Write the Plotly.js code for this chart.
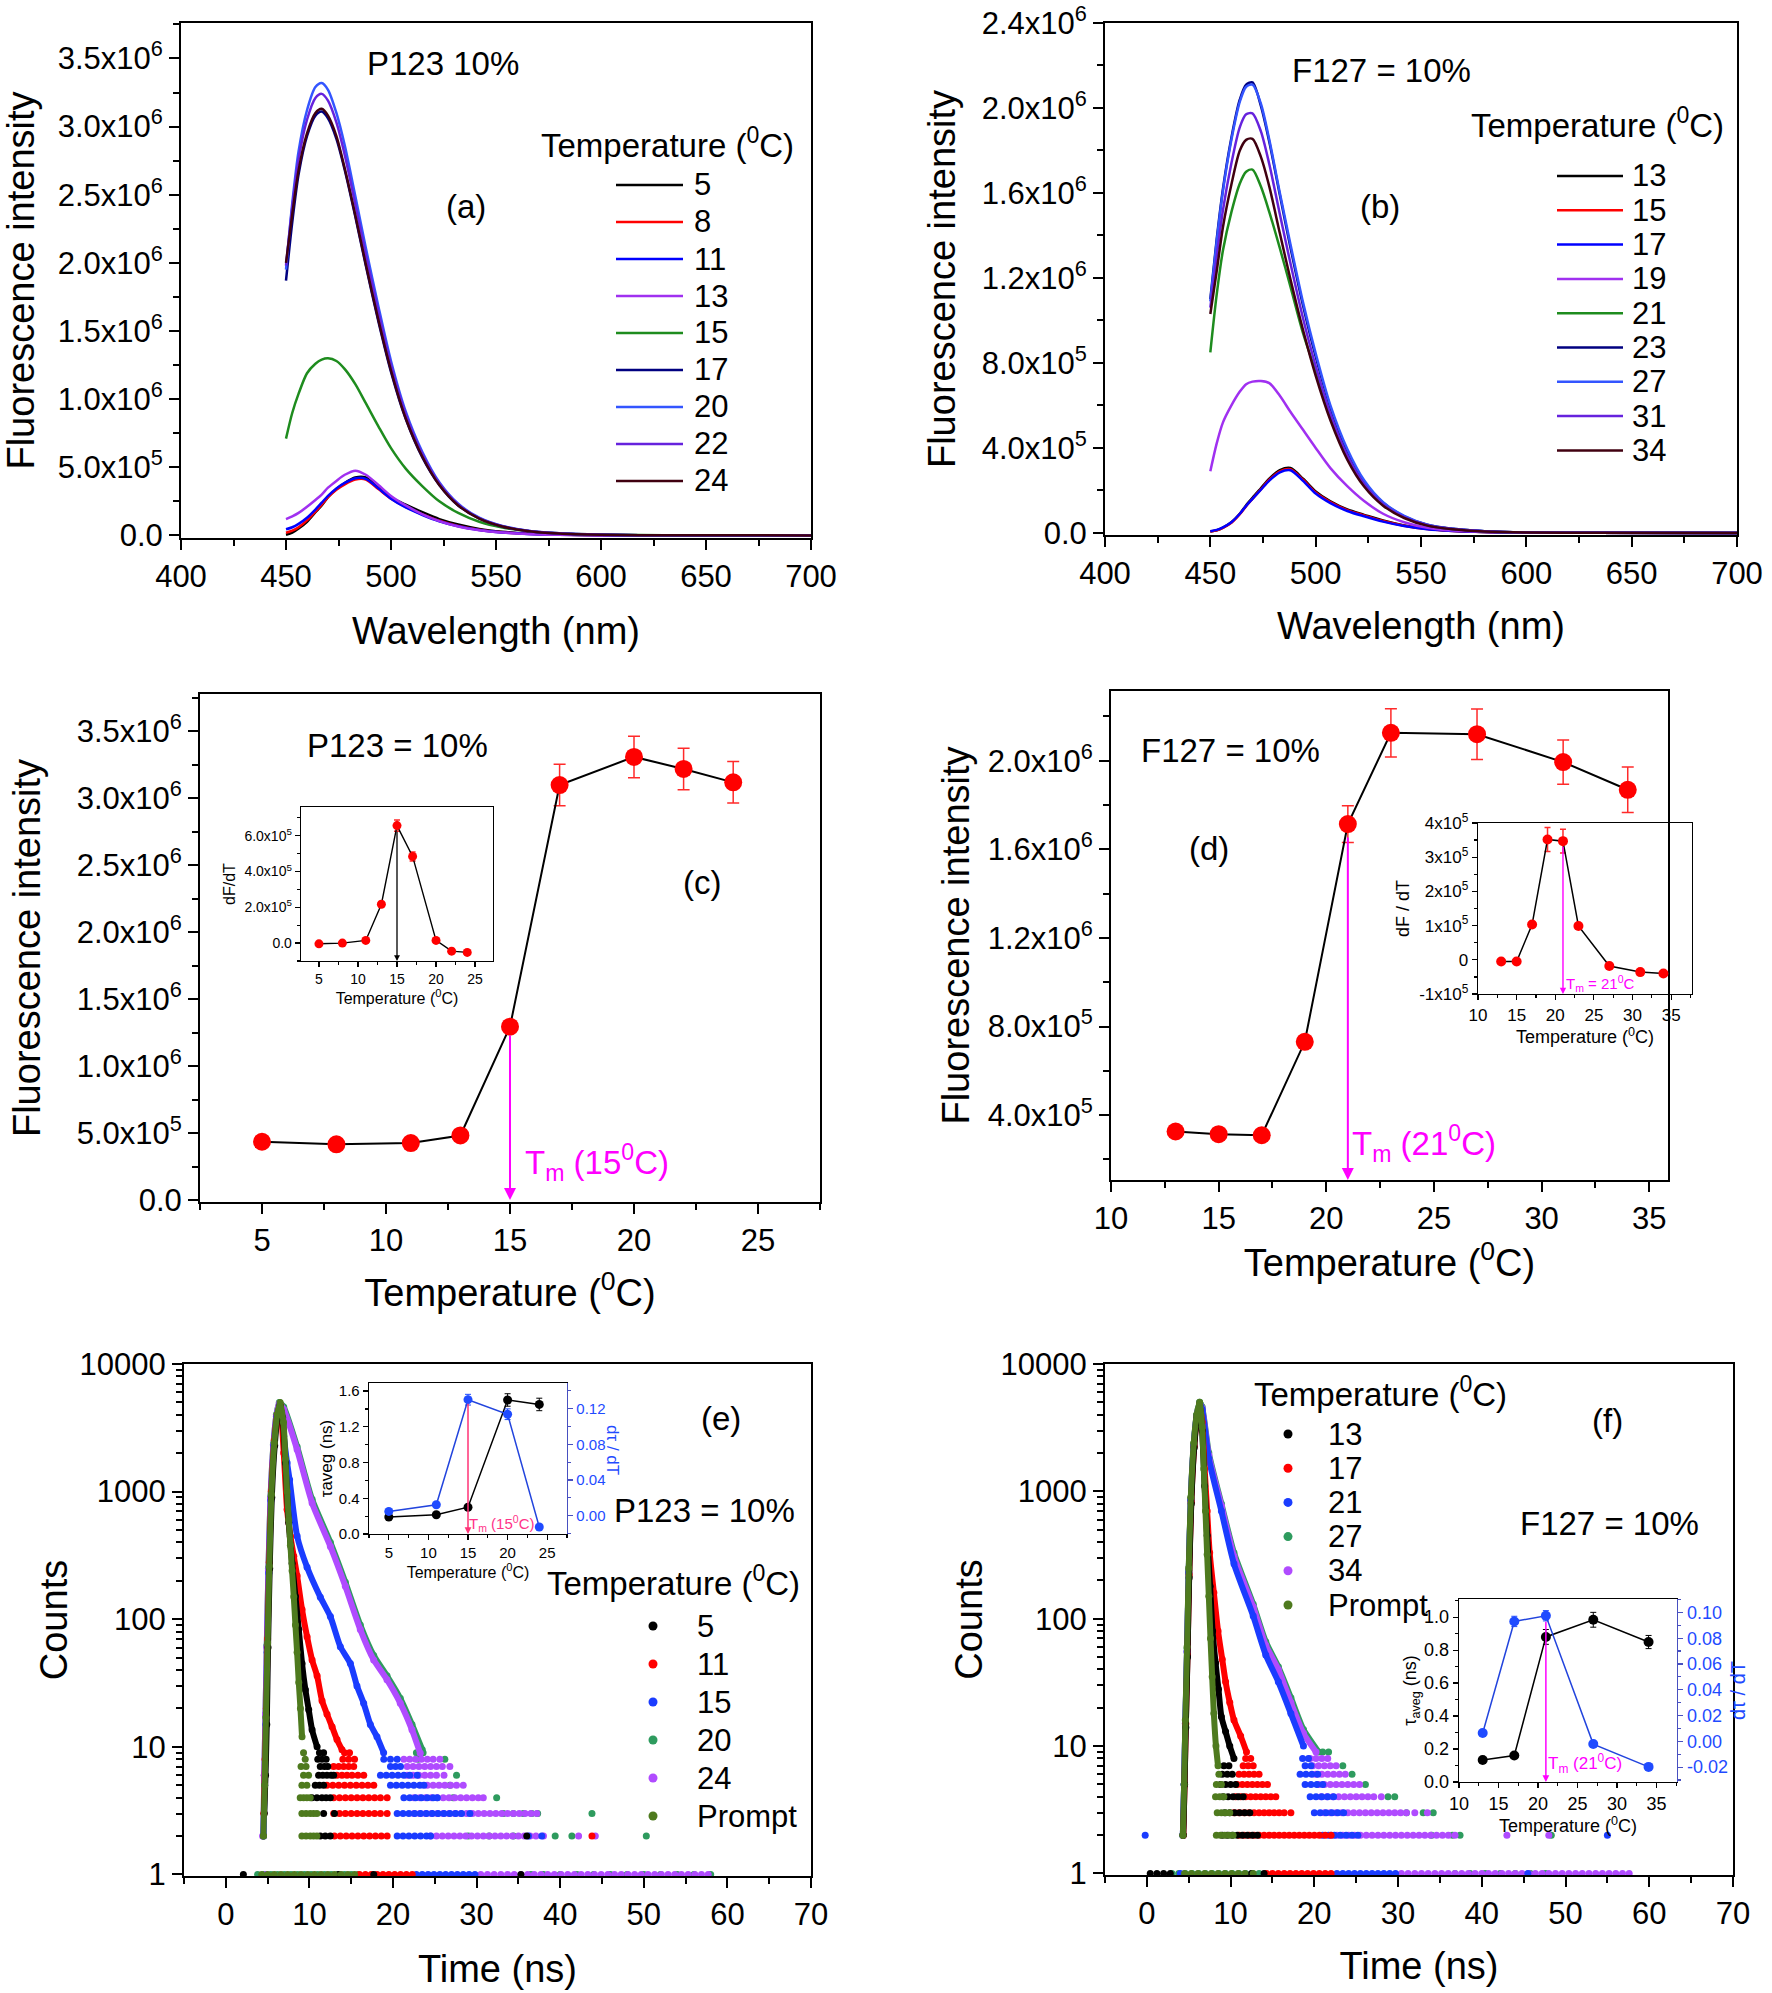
<!DOCTYPE html>
<html><head><meta charset="utf-8">
<script src="https://cdn.plot.ly/plotly-3.0.1.min.js"></script>
<style>html,body{margin:0;padding:0;background:#fff}#chart{width:1772px;height:1993px}</style>
</head><body><div id="chart"></div>
<script>
// ================= DATA =================
// (a),(b) emission spectra, intensity in units of 10^6
const wavelength = [450,453,456,460,464,467,470,474,478,483,488,494,500,507,515,523,532,542,553,565,580,600,630,700];
const tempsA = ['5','8','11','13','15','17','20','22','24'];
const specA_5  = [0.005,0.02,0.05,0.10,0.17,0.22,0.28,0.34,0.385,0.425,0.425,0.35,0.28,0.225,0.17,0.12,0.08,0.048,0.027,0.014,0.006,0.002,0.0005,0];
const specA_8  = [0.02,0.035,0.06,0.11,0.175,0.225,0.28,0.335,0.375,0.41,0.41,0.34,0.27,0.21,0.155,0.108,0.07,0.042,0.023,0.012,0.005,0.002,0.0005,0];
const specA_11 = [0.045,0.06,0.085,0.13,0.19,0.24,0.29,0.345,0.385,0.42,0.415,0.345,0.27,0.205,0.15,0.104,0.067,0.04,0.022,0.011,0.005,0.002,0.0005,0];
const specA_13 = [0.12,0.14,0.165,0.21,0.26,0.30,0.35,0.40,0.445,0.475,0.445,0.37,0.29,0.22,0.155,0.105,0.065,0.038,0.021,0.011,0.005,0.002,0.0005,0];
const specA_15 = [0.71,0.90,1.04,1.19,1.26,1.29,1.30,1.28,1.22,1.11,0.97,0.80,0.64,0.49,0.36,0.25,0.165,0.10,0.058,0.032,0.015,0.006,0.002,0];
const specA_17 = [1.87,2.30,2.65,2.93,3.08,3.11,3.06,2.91,2.68,2.34,1.98,1.57,1.20,0.855,0.57,0.37,0.22,0.125,0.066,0.033,0.014,0.005,0.001,0];
const specA_20 = [1.95,2.44,2.82,3.12,3.29,3.32,3.27,3.10,2.86,2.49,2.11,1.68,1.28,0.91,0.61,0.39,0.232,0.13,0.069,0.035,0.015,0.005,0.001,0];
const specA_22 = [1.98,2.41,2.76,3.05,3.21,3.24,3.19,3.03,2.79,2.43,2.06,1.64,1.25,0.89,0.595,0.382,0.227,0.127,0.068,0.034,0.015,0.005,0.001,0];
const specA_24 = [2.00,2.36,2.68,2.95,3.10,3.13,3.08,2.93,2.69,2.35,1.99,1.58,1.21,0.86,0.575,0.37,0.22,0.124,0.066,0.033,0.014,0.005,0.001,0];

const tempsB = ['13','15','17','19','21','23','27','31','34'];
const specB_13 = [0.006,0.012,0.025,0.05,0.09,0.13,0.165,0.21,0.255,0.295,0.305,0.255,0.195,0.148,0.11,0.085,0.058,0.035,0.019,0.01,0.004,0.0015,0.0004,0];
const specB_15 = [0.006,0.012,0.024,0.048,0.088,0.126,0.16,0.205,0.25,0.29,0.30,0.25,0.19,0.145,0.107,0.082,0.056,0.034,0.018,0.009,0.004,0.0015,0.0004,0];
const specB_17 = [0.008,0.014,0.026,0.05,0.09,0.127,0.16,0.203,0.246,0.285,0.295,0.245,0.185,0.14,0.103,0.078,0.053,0.032,0.017,0.009,0.004,0.0014,0.0004,0];
const specB_19 = [0.29,0.42,0.52,0.60,0.665,0.70,0.712,0.715,0.705,0.645,0.57,0.485,0.40,0.305,0.22,0.15,0.09,0.05,0.024,0.011,0.005,0.0015,0.0004,0];
const specB_21 = [0.85,1.12,1.33,1.51,1.645,1.70,1.71,1.63,1.51,1.34,1.16,0.94,0.76,0.55,0.36,0.23,0.135,0.074,0.036,0.018,0.008,0.002,0.0006,0];
const specB_23 = [1.10,1.38,1.62,1.86,2.04,2.11,2.12,2.01,1.84,1.59,1.345,1.07,0.83,0.59,0.385,0.24,0.142,0.078,0.038,0.019,0.008,0.002,0.0006,0];
const specB_27 = [1.09,1.37,1.61,1.85,2.03,2.10,2.11,2.02,1.85,1.60,1.36,1.085,0.845,0.60,0.395,0.248,0.145,0.080,0.039,0.019,0.008,0.002,0.0006,0];
const specB_31 = [1.06,1.30,1.52,1.74,1.91,1.97,1.975,1.89,1.735,1.50,1.27,1.01,0.785,0.56,0.365,0.23,0.135,0.074,0.036,0.018,0.008,0.002,0.0006,0];
const specB_34 = [1.03,1.23,1.44,1.64,1.80,1.85,1.855,1.77,1.63,1.41,1.195,0.955,0.74,0.53,0.345,0.218,0.128,0.070,0.034,0.017,0.007,0.002,0.0005,0];

// (c) peak intensity vs temperature (10^6) and inset dF/dT (10^5)
const tempC   = [5,8,11,13,15,17,20,22,24];
const intenC  = [0.435,0.416,0.425,0.482,1.295,3.10,3.31,3.22,3.12];
const errC    = [0,0,0,0,0,0.155,0.155,0.155,0.155];
const dFdT_C  = [-0.04,0.0,0.15,2.17,6.56,4.84,0.15,-0.45,-0.52];
const errInC  = [0,0,0,0,0.32,0.25,0,0,0];
// (d)
const tempD   = [13,15,17,19,21,23,27,31,34];
const intenD  = [0.326,0.314,0.309,0.731,1.714,2.126,2.12,1.994,1.869];
const errD    = [0,0,0,0,0.083,0.109,0.114,0.10,0.103];
const dFdT_D  = [-0.05,-0.05,1.03,3.52,3.47,0.99,-0.18,-0.36,-0.40];
const errInD  = [0,0,0,0.35,0.35,0,0,0,0];
// (e) inset: average lifetime and its derivative
const tempE    = [5,11,15,20,24];
const tauE     = [0.19,0.216,0.30,1.50,1.45];
const tauErrE  = [0,0,0,0.07,0.07];
const dtauE    = [0.0048,0.0123,0.130,0.1137,-0.0127];
const dtauErrE = [0,0,0.006,0.006,0];
// (f) inset
const tempF    = [13,17,21,27,34];
const tauF     = [0.133,0.161,0.88,0.984,0.849];
const tauErrF  = [0,0,0.045,0.045,0.04];
const dtauF    = [0.0065,0.093,0.0974,-0.0021,-0.0198];
const dtauErrF = [0,0.004,0.004,0,0];

// (e) decay curves: time (ns), counts
const labelsE = ['5','11','15','20','24','Prompt'];
const decE_5_t  = [4.6,4.75,4.9,5.05,5.25,5.5,5.85,6.2,6.5,6.8,7.13,7.53,7.93,8.33,8.73,9.12,9.52,9.92,10.32,10.92];
const decE_5_c  = [3,6,15,60,250,900,2300,3900,4700,3800,1680,570,275,151,83,45,28,19.5,13.6,10];
const decE_11_t = [4.55,4.7,4.85,5.0,5.2,5.45,5.8,6.15,6.5,6.93,7.33,7.73,8.13,8.53,9.12,9.72,10.32,10.92,11.51,12.11,12.71,13.3,13.9];
const decE_11_c = [3,8,20,70,280,1000,2500,4000,4800,2010,723,447,311,219,119,73,48,36,23,18,14.4,11.4,9.5];
const decE_15_t = [4.5,4.65,4.8,4.95,5.15,5.4,5.75,6.1,6.45,6.93,7.33,7.63,8.53,9.72,11.31,12.51,13.7,14.9,15.69,16.49,17.29,18.08,18.88];
const decE_15_c = [2,5,15,55,230,850,2300,3900,4800,2716,1680,1240,448,256,149,105,61,45,30,22,15,12,9];
const decE_20_t = [4.5,4.6,4.75,4.9,5.1,5.35,5.7,6.05,6.4,6.93,8.53,10.32,12.51,14.3,16.09,17.69,19.28,20.87,22.27,23.5];
const decE_20_c = [2,6,18,62,250,900,2350,4000,5000,4600,2250,870,400,195,90,52,36,24,15,9.5];
const decE_24_t = [4.5,4.6,4.75,4.9,5.1,5.35,5.7,6.05,6.4,6.93,8.53,10.32,12.51,14.3,16.09,17.69,19.28,20.87,22.27,23.26];
const decE_24_c = [2,6,18,60,240,880,2300,3900,4900,4400,2135,815,372,181,83,48,33.6,22,13.6,8.9];
const decE_P_t  = [4.5,4.65,4.8,5.0,5.2,5.45,5.8,6.15,6.5,6.9,7.13,7.33,7.53,7.73,7.93,8.13,8.33,8.53,8.73,8.93,9.12];
const decE_P_c  = [2,5,17,65,260,950,2400,4000,5000,3500,1800,1000,600,380,240,150,90,55,32,20,12];
// low-count rows: [count, [times]]
const tailE_5  = [[9,[11.2,11.7]],[8,[11.0,11.5,12.0]],[7,[11.3,11.8,12.2]],[6,[11.1,11.6,12.1,12.6,12.9]],[5,[10.7,11.2,11.7]],[4,[10.3,10.9,11.5,12.0,12.5]],[3,[11.7,13.0]],[2,[11.3,11.9,12.5,36.0]],[1,[2.1,13.5,17.7,35.3]]];
const tailE_11 = [[9,[14.2,14.8]],[8,[14.0,14.7,15.4]],[7,[12.9,13.5,14.1,14.7,15.3]],[6,[13.3,13.9,14.5,15.1,15.8,16.5]],[5,[12.1,12.8,13.5,14.2,14.9,15.6,16.3,17.0,17.7]],[4,[12.9,13.6,14.3,15.0,15.7,16.4,17.1,17.8,18.5,19.3]],[3,[12.9,13.6,14.3,15.0,15.7,16.4,17.1,17.8,18.5,19.3]],[2,[13.0,13.7,14.4,15.1,15.8,16.5,17.2,17.9,18.6,19.3,43.8]],[1,[16.0,16.7,17.4,18.1,18.8,19.5,20.2,20.9,21.6,22.3]]];
const tailE_15 = [[8,[18.9,19.7,20.5]],[7,[19.7,20.3,20.9]],[6,[18.5,19.2,19.9,20.6,21.3,22.0,22.9]],[5,[19.7,20.4,21.1,21.8,22.5,23.2,23.7]],[4,[21.3,22.0,22.7,23.4,24.1,24.8,25.3]],[3,[20.5,21.2,21.9,22.6,23.3,24.0,24.7,25.4,26.1,26.8,27.5,28.2,29.2]],[2,[20.5,21.2,21.9,22.6,23.3,24.0,24.5,36.2,37.8]],[1,[22.8,23.5,24.2,24.9,25.6,26.3,27.0,27.7,28.4,29.1,29.8]]];
const tailE_20 = [[9,[22.8,23.6]],[8,[23.0,26.2]],[6,[27.6]],[5,[26.8]],[4,[27.2,32.4]],[3,[33.2,34.4,35.6,36.6,37.3,43.8]],[2,[29.0,31.5,34.4,39.4,41.4,50.3]],[1,[3.8,4.6,5.4,6.2,7.0,7.8,8.6,9.4,10.2,11.0,11.8,12.6,13.4,14.2,15.0,15.8,36.5,38.0,40.0,42.0,44.0,46.0,48.0,50.0,52.0,54.0,56.0,58.0]]];
const tailE_24 = [[8,[21.3,22.0,22.7,23.4,24.1,24.8,25.6]],[7,[21.7,22.4,23.1,23.8,24.5,25.2,25.9,26.8]],[6,[21.7,22.4,23.1,23.8,24.5,25.2,26.1]],[5,[24.1,24.8,25.5,26.2,26.9,27.6,28.4]],[4,[22.5,23.2,23.9,24.6,25.3,26.0,26.7,27.4,28.1,28.8,29.5,30.2,30.8]],[3,[22.5,23.2,23.9,24.6,25.3,26.0,26.7,27.4,28.1,28.8,29.5,30.2,30.9,31.6,32.3,33.0,33.7,34.4,35.1,35.8,36.5,37.2]],[2,[4.4,24.5,25.2,25.9,26.6,27.3,28.0,28.7,29.4,30.1,30.8,31.5,32.2,32.9,33.6,34.3,35.0,35.7,36.4,37.1,38.0,42.2,44.2]],[1,[4.8,30.5,31.3,32.1,32.9,33.7,34.5,35.3,36.1,36.9,37.7,38.5,39.3,40.1,40.9,41.7,42.5,43.3,44.1,44.9,45.7,46.5,47.3,48.1,48.9,49.7,50.5,51.3,52.1,52.9,53.7,54.5,55.3,56.1,56.9,57.7]]];
const tailE_P  = [[9,[9.3]],[8,[9.5]],[7,[9.0,9.6]],[6,[9.3,9.9]],[5,[9.1,9.7]],[4,[8.9,9.3,9.7,10.1]],[3,[9.1,9.6,10.1,10.5,10.9]],[2,[4.5,9.1,9.6,10.1,10.5,10.9]],[1,[4.3,5.0,5.8,6.6,7.4,8.2,9.0,9.8,10.6,11.4,12.2,13.0,13.8,14.6,15.4]]];

// (f) decay curves
const labelsF = ['13','17','21','27','34','Prompt'];
const decF_13_t = [4.35,4.5,4.65,4.85,5.05,5.3,5.65,6.0,6.3,6.6,6.9,7.2,7.55,7.85,8.2,8.55,8.9,9.4,9.9,10.4];
const decF_13_c = [2,5,14,50,210,800,2200,3800,4700,3000,1100,450,180,80,45,28,17,13,10,8];
const decF_17_t = [4.35,4.5,4.65,4.85,5.05,5.3,5.65,6.0,6.3,6.6,6.9,7.2,7.5,8.0,8.5,9.0,9.4,9.9,10.4,11.2,11.9];
const decF_17_c = [2,5,15,52,220,820,2250,3850,4800,3500,1500,700,330,160,80,48,32,22,16,12,9];
const decF_21_t = [4.3,4.45,4.6,4.8,5.0,5.25,5.6,5.95,6.3,6.6,7.4,8.9,10.4,12.7,14.2,15.7,17.2,18.7];
const decF_21_c = [2,5,15,55,230,850,2300,3900,4900,4400,1800,700,270,105,52,32,18,10];
const decF_27_t = [4.3,4.45,4.6,4.8,5.0,5.25,5.6,5.95,6.3,6.6,7.4,8.9,10.4,12.7,14.2,15.7,17.2,18.7,20.5];
const decF_27_c = [2,5,16,58,240,880,2350,4000,5000,4600,2000,800,330,130,66,42,24,13.5,9];
const decF_34_t = [4.3,4.45,4.6,4.8,5.0,5.25,5.6,5.95,6.3,6.6,7.4,8.9,10.4,12.7,14.2,15.7,17.2,18.7,20.2];
const decF_34_c = [2,5,15,55,230,850,2300,3900,4900,4500,1910,770,310,124,62,40,22,12.6,9];
const decF_P_t  = [4.3,4.45,4.6,4.8,5.0,5.25,5.6,5.95,6.3,6.6,6.8,7.0,7.2,7.4,7.6,7.8,8.0,8.25,8.5];
const decF_P_c  = [2,5,16,60,250,900,2400,4000,5000,3200,1500,700,320,150,70,35,18,10,7];
const tailF_13 = [[7,[9.2,9.8]],[6,[9.0,9.6,10.2]],[5,[8.8,9.4,10.0,10.6]],[4,[9.1,9.7,10.3,10.9,11.5]],[3,[9.3,9.9,10.5,11.1,11.7,12.3]],[2,[9.0,9.6,10.2,10.8,11.4,12.0,12.6,13.2]],[1,[0.4,1.2,2.0,2.8,12.5,14.0]]];
const tailF_17 = [[8,[11.8,12.4]],[7,[11.5,12.1,12.7]],[6,[11.0,11.6,12.2,12.8,13.4]],[5,[10.8,11.4,12.0,12.6,13.2,13.8,14.4]],[4,[10.6,11.2,11.8,12.4,13.0,13.6,14.2,14.8,15.4]],[3,[10.4,11.0,11.6,12.2,12.8,13.4,14.0,14.6,15.2,15.8,16.4,17.2]],[2,[11.0,11.6,12.2,12.8,13.4,14.0,14.6,15.2,15.8,16.4,17.0,17.6,18.2,18.8,19.4,20.0,20.6,21.3,22.0]],[1,[14.3,15.0,15.7,16.4,17.1,17.8,18.5,19.2,19.9,20.6,21.3,22.0]]];
const tailF_21 = [[8,[18.6,19.3]],[7,[18.9,19.6]],[6,[18.3,19.0,19.7,20.4]],[5,[18.9,19.6,20.3,21.0]],[4,[19.5,20.2,20.9,21.6,22.3]],[3,[20.0,20.7,21.4,22.1,22.8,23.5]],[2,[-0.2,21.0,21.7,22.4,23.1,23.8,24.5,25.2,55.0]],[1,[4.0,22.7,23.4,24.1,24.8,25.5,26.2,26.9,27.6,28.3,29.0,29.7,45.5]]];
const tailF_27 = [[9,[21.0,21.7]],[7,[23.4]],[6,[24.5]],[5,[26.1]],[4,[28.8,29.6]],[3,[31.0,33.0,34.2]],[2,[34.0,36.5,37.4,48.3]],[1,[3.0,3.8,4.6,5.4,6.2,7.0,7.8,8.6,9.4,10.2,11.0,11.8,12.6,13.4,36.8,38.6,40.4,42.2,44.0,45.8,47.6]]];
const tailF_34 = [[8,[19.5,20.2,20.9,21.6]],[7,[19.8,20.5,21.2,21.9,22.6]],[6,[20.2,20.9,21.6,22.3,23.0,23.7]],[5,[20.5,21.2,21.9,22.6,23.3,24.0,24.7,25.4]],[4,[20.8,21.5,22.2,22.9,23.6,24.3,25.0,25.7,26.4,27.1,28.0]],[3,[21.2,21.9,22.6,23.3,24.0,24.7,25.4,26.1,26.8,27.5,28.2,28.9,29.6,30.3,31.0,32.0,33.5]],[2,[22.0,22.7,23.4,24.1,24.8,25.5,26.2,26.9,27.6,28.3,29.0,29.7,30.4,31.1,31.8,32.5,33.2,33.9,34.6,35.3,36.0,36.8,43.0,48.0]],[1,[30.4,31.2,32.0,32.8,33.6,34.4,35.2,36.0,36.8,37.6,38.4,39.2,40.0,40.8,41.6,42.4,43.2,44.0,44.8,45.6,46.4,47.2,48.0,48.8,49.6,50.4,51.2,52.0,52.8,53.6,54.4,55.2,56.0,56.8,57.6]]];
const tailF_P  = [[6,[8.6]],[5,[8.3,8.9]],[4,[8.2,8.7,9.2]],[3,[8.4,8.9,9.4,9.9]],[2,[4.3,8.3,8.8,9.3,9.8,10.3]],[1,[4.5,5.3,6.1,6.9,7.7,8.5,9.3,10.1,10.9,11.7,12.7]]];

// tick labels
const tickWave = [400,450,500,550,600,650,700];
const yValsA = [0,0.5,1,1.5,2,2.5,3,3.5];
const yTextA = ['0.0','5.0x10<sup>5</sup>','1.0x10<sup>6</sup>','1.5x10<sup>6</sup>','2.0x10<sup>6</sup>','2.5x10<sup>6</sup>','3.0x10<sup>6</sup>','3.5x10<sup>6</sup>'];
const yValsB = [0,0.4,0.8,1.2,1.6,2.0,2.4];
const yTextB = ['0.0','4.0x10<sup>5</sup>','8.0x10<sup>5</sup>','1.2x10<sup>6</sup>','1.6x10<sup>6</sup>','2.0x10<sup>6</sup>','2.4x10<sup>6</sup>'];
const yValsD = [0.4,0.8,1.2,1.6,2.0];
const yTextD = ['4.0x10<sup>5</sup>','8.0x10<sup>5</sup>','1.2x10<sup>6</sup>','1.6x10<sup>6</sup>','2.0x10<sup>6</sup>'];
const tickTempC = [5,10,15,20,25];
const tickTempD = [10,15,20,25,30,35];
const tickTime = [0,10,20,30,40,50,60,70];
const tickLog = [1,10,100,1000,10000];
const tickLogText = ['1','10','100','1000','10000'];
const minorLog = [2,3,4,5,6,7,8,9,20,30,40,50,60,70,80,90,200,300,400,500,600,700,800,900,2000,3000,4000,5000,6000,7000,8000,9000];
const yValsInC = [0,2,4,6];
const yTextInC = ['0.0','2.0x10<sup>5</sup>','4.0x10<sup>5</sup>','6.0x10<sup>5</sup>'];
const yValsInD = [-1,0,1,2,3,4];
const yTextInD = ['-1x10<sup>5</sup>','0','1x10<sup>5</sup>','2x10<sup>5</sup>','3x10<sup>5</sup>','4x10<sup>5</sup>'];
const tauTicksE = [0,0.4,0.8,1.2,1.6];
const tauTextE = ['0.0','0.4','0.8','1.2','1.6'];
const dtauTicksE = [0,0.04,0.08,0.12];
const dtauTextE = ['0.00','0.04','0.08','0.12'];
const tauTicksF = [0,0.2,0.4,0.6,0.8,1.0];
const tauTextF = ['0.0','0.2','0.4','0.6','0.8','1.0'];
const dtauTicksF = [-0.02,0,0.02,0.04,0.06,0.08,0.10];
const dtauTextF = ['-0.02','0.00','0.02','0.04','0.06','0.08','0.10'];

// ================= STYLE / BUILD =================
const W = 1772, H = 1993;
const FONT = '"Liberation Sans", Arial, Helvetica, sans-serif';
const PX = v => v / W, PY = v => 1 - v / H;
const domX = (a, b) => [a / W, b / W];
const domY = (top, bot) => [1 - bot / H, 1 - top / H];
const colA = ['#000000','#FF0000','#0000FF','#A030F0','#1E8C1E','#000080','#3355FF','#6622DD','#400010'];
const colE = ['#000000','#FF0000','#1A3CFF','#2E9B5E','#B04BFF','#4E7A1E'];
const MAG = '#FF00FF';

const traces = [];
const specA = [specA_5,specA_8,specA_11,specA_13,specA_15,specA_17,specA_20,specA_22,specA_24];
const specB = [specB_13,specB_15,specB_17,specB_19,specB_21,specB_23,specB_27,specB_31,specB_34];
specA.forEach((y, i) => traces.push({type:'scatter', mode:'lines', x: wavelength, y, xaxis:'x', yaxis:'y', name: tempsA[i],
  line:{color: colA[i], width: 2.5, shape:'spline', smoothing:0.8}, showlegend:false, hoverinfo:'skip'}));
specB.forEach((y, i) => traces.push({type:'scatter', mode:'lines', x: wavelength, y, xaxis:'x2', yaxis:'y2', name: tempsB[i],
  line:{color: colA[i], width: 2.5, shape:'spline', smoothing:0.8}, showlegend:false, hoverinfo:'skip'}));

function ptTrace(xa, ya, x, y, err, msize, lw) {
  return {type:'scatter', mode:'lines+markers', x, y, xaxis:xa, yaxis:ya, showlegend:false, hoverinfo:'skip', cliponaxis:false,
    line:{color:'#000', width: lw}, marker:{color:'#FF0000', size: msize},
    error_y:{type:'data', array: err, visible:true, color:'#FF2A2A', thickness:1.5, width: msize > 12 ? 6 : 3}};
}
traces.push(ptTrace('x3','y3', tempC, intenC, errC, 18, 2));
traces.push(ptTrace('x4','y4', tempD, intenD, errD, 18, 2));
traces.push(ptTrace('x7','y7', tempC, dFdT_C, errInC, 9, 1.4));
traces.push(ptTrace('x8','y8', tempD, dFdT_D, errInD, 10, 1.5));

// decay panels
function addDecay(xa, ya, t, c, tail, color) {
  traces.push({type:'scatter', mode:'lines+markers', x:t, y:c, xaxis:xa, yaxis:ya, showlegend:false, hoverinfo:'skip',
    line:{color, width:6, shape:'spline', smoothing:0.6}, marker:{color, size:7}});
  const tx = [], ty = [];
  tail.forEach(([cnt, ts]) => ts.forEach(v => { tx.push(v); ty.push(cnt); }));
  traces.push({type:'scatter', mode:'markers', x:tx, y:ty, xaxis:xa, yaxis:ya, showlegend:false, hoverinfo:'skip',
    cliponaxis:false, marker:{color, size:7}});
}
addDecay('x5','y5', decE_20_t, decE_20_c, tailE_20, colE[3]);
addDecay('x5','y5', decE_24_t, decE_24_c, tailE_24, colE[4]);
addDecay('x5','y5', decE_15_t, decE_15_c, tailE_15, colE[2]);
addDecay('x5','y5', decE_11_t, decE_11_c, tailE_11, colE[1]);
addDecay('x5','y5', decE_5_t,  decE_5_c,  tailE_5,  colE[0]);
addDecay('x5','y5', decE_P_t,  decE_P_c,  tailE_P,  colE[5]);
addDecay('x6','y6', decF_27_t, decF_27_c, tailF_27, colE[3]);
addDecay('x6','y6', decF_34_t, decF_34_c, tailF_34, colE[4]);
addDecay('x6','y6', decF_21_t, decF_21_c, tailF_21, colE[2]);
addDecay('x6','y6', decF_17_t, decF_17_c, tailF_17, colE[1]);
addDecay('x6','y6', decF_13_t, decF_13_c, tailF_13, colE[0]);
addDecay('x6','y6', decF_P_t,  decF_P_c,  tailF_P,  colE[5]);

// lifetime insets
const BLUE = '#1F4BFF', BLUEL = '#2244DD';
function tauTraces(xa, ya, ya2, x, tau, tauErr, dtau, dtauErr, ms) {
  traces.push({type:'scatter', mode:'lines+markers', x, y:tau, xaxis:xa, yaxis:ya, showlegend:false, hoverinfo:'skip', cliponaxis:false,
    line:{color:'#000', width:1.5}, marker:{color:'#000', size:ms},
    error_y:{type:'data', array:tauErr, visible:true, color:'#000', thickness:1, width:3}});
  traces.push({type:'scatter', mode:'lines+markers', x, y:dtau, xaxis:xa, yaxis:ya2, showlegend:false, hoverinfo:'skip', cliponaxis:false,
    line:{color:BLUEL, width:1.5}, marker:{color:BLUE, size:ms},
    error_y:{type:'data', array:dtauErr, visible:true, color:BLUE, thickness:1, width:3}});
}
tauTraces('x9','y9','y11', tempE, tauE, tauErrE, dtauE, dtauErrE, 9);
tauTraces('x10','y10','y12', tempF, tauF, tauErrF, dtauF, dtauErrF, 10);

// ---------- axes ----------
function ax(o) {
  return Object.assign({
    showline:true, linecolor:'#000', linewidth:2, mirror:true,
    ticks:'outside', ticklen:10, tickwidth:2, tickcolor:'#000', tickangle:0,
    tickfont:{family:FONT, size:31, color:'#000'},
    showgrid:false, zeroline:false, fixedrange:true, automargin:false, tickmode:'array'
  }, o);
}
function inAx(o, fs) {
  return ax(Object.assign({linewidth:1.3, ticklen:5, tickwidth:1.2, tickfont:{family:FONT, size:fs, color:'#000'}}, o));
}
const ttl = (text, size, standoff, color) => ({text, font:{family:FONT, size, color: color || '#000'}, standoff});
const mnr = (dtick, len, w, color) => ({dtick, tick0:0, ticks:'outside', ticklen:len, tickwidth:w, tickcolor: color || '#000', showgrid:false});
const TEMP = 'Temperature (<sup>0</sup>C)';

const layout = {
  width: W, height: H, margin:{l:0, r:0, t:0, b:0}, paper_bgcolor:'#fff', plot_bgcolor:'rgba(0,0,0,0)',
  showlegend:false, font:{family:FONT, color:'#000'},
  xaxis: ax({domain:domX(181,811), range:[400,700], anchor:'y', tickvals:tickWave, ticktext:tickWave.map(String), minor:mnr(25,6,2), title:ttl('Wavelength (nm)',38,24)}),
  yaxis: ax({domain:domY(23,538), range:[-0.019,3.76], anchor:'x', tickvals:yValsA, ticktext:yTextA, minor:mnr(0.25,6,2), title:ttl('Fluorescence intensity',38,18)}),
  xaxis2: ax({domain:domX(1105,1737), range:[400,700], anchor:'y2', tickvals:tickWave, ticktext:tickWave.map(String), minor:mnr(25,6,2), title:ttl('Wavelength (nm)',38,22)}),
  yaxis2: ax({domain:domY(23,535), range:[-0.01,2.4], anchor:'x2', tickvals:yValsB, ticktext:yTextB, minor:mnr(0.2,6,2), title:ttl('Fluorescence intensity',38,14)}),
  xaxis3: ax({domain:domX(200,820), range:[2.5,27.5], anchor:'y3', tickvals:tickTempC, ticktext:tickTempC.map(String), minor:mnr(2.5,6,2), title:ttl(TEMP,38,22)}),
  yaxis3: ax({domain:domY(694,1202), range:[-0.015,3.78], anchor:'x3', tickvals:yValsA, ticktext:yTextA, minor:mnr(0.25,6,2), title:ttl('Fluorescence intensity',38,24)}),
  xaxis4: ax({domain:domX(1111,1668), range:[10,35.87], anchor:'y4', tickvals:tickTempD, ticktext:tickTempD.map(String), minor:mnr(2.5,6,2), title:ttl(TEMP,38,8)}),
  yaxis4: ax({domain:domY(691,1180), range:[0.107,2.315], anchor:'x4', tickvals:yValsD, ticktext:yTextD, minor:mnr(0.2,6,2), title:ttl('Fluorescence intensity',38,6)}),
  xaxis5: ax({domain:domX(184,811), range:[-5,70], anchor:'y5', tickvals:tickTime, ticktext:tickTime.map(String), minor:mnr(5,6,2), title:ttl('Time (ns)',38,24)}),
  yaxis5: ax({domain:domY(1364,1876), type:'log', range:[-0.012,4.0], anchor:'x5', tickvals:tickLog, ticktext:tickLogText,
    minor:{tickmode:'array', tickvals:minorLog, ticks:'outside', ticklen:6, tickwidth:2, tickcolor:'#000'}, title:ttl('Counts',38,0)}),
  xaxis6: ax({domain:domX(1105,1733), range:[-5,70], anchor:'y6', tickvals:tickTime, ticktext:tickTime.map(String), minor:mnr(5,6,2), title:ttl('Time (ns)',38,22)}),
  yaxis6: ax({domain:domY(1364,1875), type:'log', range:[-0.012,4.0], anchor:'x6', tickvals:tickLog, ticktext:tickLogText,
    minor:{tickmode:'array', tickvals:minorLog, ticks:'outside', ticklen:6, tickwidth:2, tickcolor:'#000'}, title:ttl('Counts',38,6)}),
  xaxis7: inAx({domain:domX(301,493), range:[2.7,27.3], anchor:'y7', tickvals:tickTempC, ticktext:tickTempC.map(String), minor:mnr(2.5,3,1.2), title:ttl(TEMP,16,2)}, 14),
  yaxis7: inAx({domain:domY(807,961), range:[-1.0,7.6], anchor:'x7', tickvals:yValsInC, ticktext:yTextInC, minor:mnr(1,3,1.2), title:ttl('dF/dT',16,4)}, 14),
  xaxis8: inAx({domain:domX(1478,1692), range:[10,37.7], anchor:'y8', tickvals:tickTempD, ticktext:tickTempD.map(String), minor:mnr(2.5,3,1.2), title:ttl(TEMP,18,2)}, 17),
  yaxis8: inAx({domain:domY(823,994), range:[-1,4], anchor:'x8', tickvals:yValsInD, ticktext:yTextInD, minor:mnr(0.5,3,1.2), title:ttl('dF / dT',18,4)}, 17),
  xaxis9: inAx({domain:domX(369,567), range:[2.5,27.5], anchor:'y9', tickvals:tickTempC, ticktext:tickTempC.map(String), minor:mnr(2.5,3,1.2), title:ttl(TEMP,16,2)}, 15),
  yaxis9: inAx({domain:domY(1383,1534), range:[0,1.69], anchor:'x9', mirror:false, tickvals:tauTicksE, ticktext:tauTextE, minor:mnr(0.2,3,1.2), title:ttl('τaveg (ns)',17,2)}, 15),
  yaxis11: inAx({domain:domY(1383,1534), range:[-0.0205,0.1487], anchor:'x9', overlaying:'y9', side:'right', mirror:false,
    linecolor:'#4850C0', tickcolor:'#4850C0', tickvals:dtauTicksE, ticktext:dtauTextE, minor:mnr(0.02,3,1.2,'#4850C0'),
    tickfont:{family:FONT, size:15, color:BLUE}}, 15),
  xaxis10: inAx({domain:domX(1459,1677), range:[10,37.6], anchor:'y10', tickvals:tickTempD, ticktext:tickTempD.map(String), minor:mnr(2.5,3,1.2), title:ttl(TEMP,18,2)}, 18),
  yaxis10: inAx({domain:domY(1599,1782), range:[0,1.11], anchor:'x10', mirror:false, tickvals:tauTicksF, ticktext:tauTextF, minor:mnr(0.1,3,1.2), title:ttl('τ<sub>aveg</sub> (ns)',18,2)}, 18),
  yaxis12: inAx({domain:domY(1599,1782), range:[-0.0315,0.1104], anchor:'x10', overlaying:'y10', side:'right', mirror:false,
    linecolor:'#4850C0', tickcolor:'#4850C0', tickvals:dtauTicksF, ticktext:dtauTextF, minor:mnr(0.01,3,1.2,'#4850C0'),
    tickfont:{family:FONT, size:18, color:BLUE}, title:ttl('dτ / dT',20,4,BLUE)}, 18),
  annotations: [], shapes: []
};

// ---------- annotations ----------
const A = layout.annotations, S = layout.shapes;
function txt(text, x, y, size, color, extra) {
  A.push(Object.assign({text, x:PX(x), y:PY(y), xref:'paper', yref:'paper', showarrow:false, xanchor:'center', yanchor:'middle',
    font:{family:FONT, size, color: color || '#000'}}, extra || {}));
}
txt('P123 10%', 443, 63, 33); txt('(a)', 466, 206, 33);
txt('F127 = 10%', 1381, 70, 33); txt('(b)', 1380, 206, 33);
txt('P123 = 10%', 397, 745, 33); txt('(c)', 702, 882, 33);
txt('F127 = 10%', 1230, 750, 33); txt('(d)', 1209, 848, 33);
txt('(e)', 721, 1418, 33); txt('P123 = 10%', 704, 1510, 33);
txt('(f)', 1607, 1420, 33); txt('F127 = 10%', 1609, 1523, 33);
txt('T<sub>m</sub> (15<sup>0</sup>C)', 597, 1162, 33, MAG);
txt('T<sub>m</sub> (21<sup>0</sup>C)', 1424, 1143, 33, MAG);
txt('T<sub>m</sub> = 21<sup>0</sup>C', 1600, 983, 15, MAG);
txt('T<sub>m</sub> (15<sup>0</sup>C)', 501, 1523, 15, '#FF3388');
txt('T<sub>m</sub> (21<sup>0</sup>C)', 1585, 1763, 17, MAG);
txt('dτ / dT', 613, 1450, 17, BLUE, {textangle:90});

function arrow(xa, ya, x, yHead, yTail, color, w, size) {
  A.push({text:'', xref:xa, yref:ya, axref:xa, ayref:ya, x, y:yHead, ax:x, ay:yTail, showarrow:true,
    arrowhead:2, arrowsize:size, arrowwidth:w, arrowcolor:color, standoff:0, startstandoff:0});
}
arrow('x3','y3', 15, 0, 1.24, MAG, 2, 1.2);
arrow('x4','y4', 21, 0.107, 1.66, MAG, 2, 1.2);
arrow('x7','y7', 15, -1.0, 6.3, '#000', 1.3, 0.9);
arrow('x8','y8', 21, -1.0, 3.35, MAG, 1.4, 0.9);
arrow('x9','y11', 15, -0.0205, 0.127, '#FF3377', 1.5, 0.9);
arrow('x10','y12', 21, -0.0315, 0.094, MAG, 1.5, 0.9);

// ---------- hand-placed legends ----------
txt(TEMP, 667, 143, 33);
tempsA.forEach((t, i) => {
  const y = 185 + i * 37;
  S.push({type:'line', xref:'paper', yref:'paper', x0:PX(616), x1:PX(683), y0:PY(y), y1:PY(y), line:{color:colA[i], width:2.5}});
  txt(t, 692, y, 31, '#000', {xanchor:'left'});
});
txt(TEMP, 1597, 123, 33);
tempsB.forEach((t, i) => {
  const y = 176 + i * 34.3;
  S.push({type:'line', xref:'paper', yref:'paper', x0:PX(1557), x1:PX(1623), y0:PY(y), y1:PY(y), line:{color:colA[i], width:2.5}});
  txt(t, 1630, y, 31, '#000', {xanchor:'left'});
});
function dotLegend(labels, cx, lx, y0, step) {
  labels.forEach((t, i) => {
    const y = y0 + i * step, r = 4.5;
    S.push({type:'circle', xref:'paper', yref:'paper', x0:PX(cx - r), x1:PX(cx + r), y0:PY(y + r), y1:PY(y - r),
      fillcolor:colE[i], line:{width:0}});
    txt(t, lx, y, 31, '#000', {xanchor:'left'});
  });
}
txt(TEMP, 673, 1581, 33);
dotLegend(labelsE, 653, 695, 1626, 38);
txt(TEMP, 1380, 1392, 33);
dotLegend(labelsF, 1288, 1326, 1434, 34.2);

Plotly.newPlot('chart', traces, layout, {staticPlot:true, displayModeBar:false});
</script></body></html>
